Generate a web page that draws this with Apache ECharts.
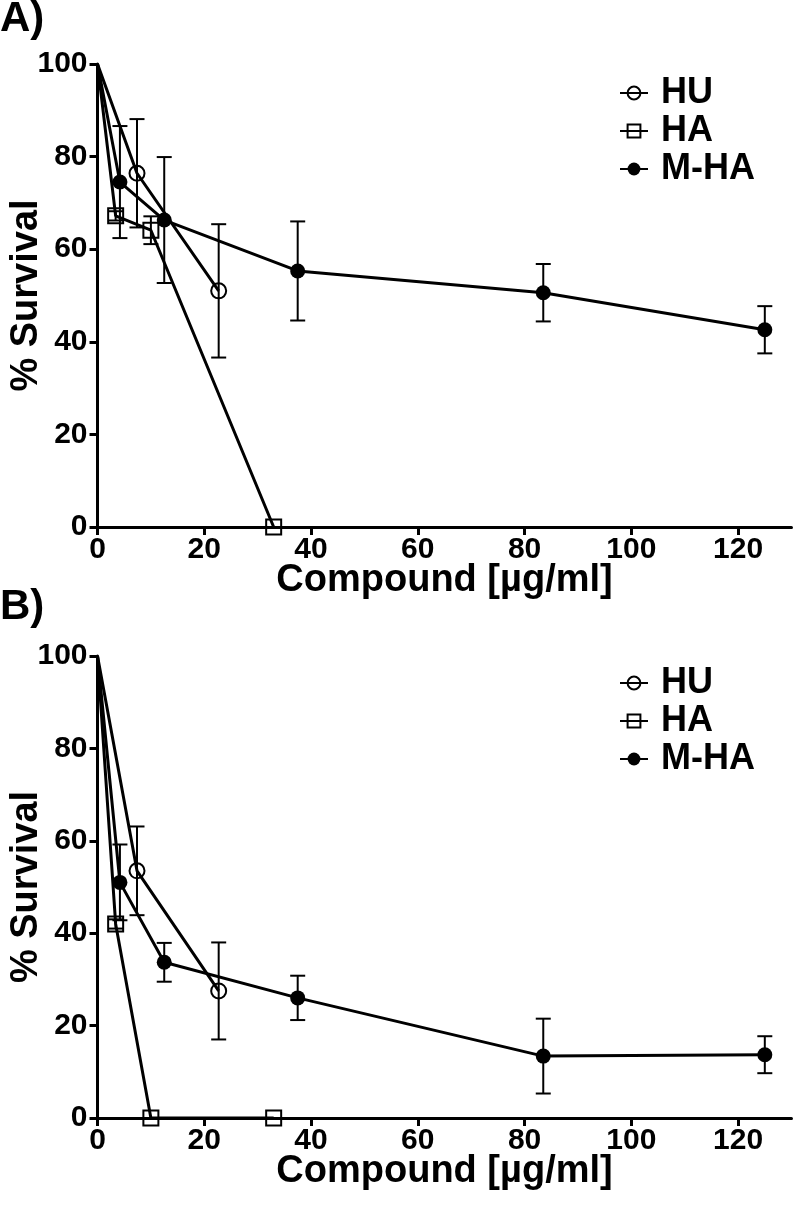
<!DOCTYPE html>
<html>
<head>
<meta charset="utf-8">
<script src="https://cdn.jsdelivr.net/npm/echarts@6/dist/echarts.min.js"></script>
<style>html,body{margin:0;padding:0;background:#fff;}#c{width:793px;height:1216px;}</style>
</head>
<body>
<div id="c"></div>
<script>
// ---- data ----
const seriesNames = ['HU', 'HA', 'M-HA'];
const xTickValues = [0, 20, 40, 60, 80, 100, 120];
const yTickValues = [0, 20, 40, 60, 80, 100];

const huX = [0, 7.4, 22.7];
const haX = [0, 3.4, 10, 33];
const mhaX = [0, 4.2, 12.5, 37.5, 83.5, 125];

// Panel A
const huA = [100, 76.4, 51.0];
const huAErr = [0, 11.7, 14.4];
const haA = [100, 67.2, 64.1, 0];
const haAErr = [0, 1.0, 3.0, 0];
const mhaA = [100, 74.5, 66.3, 55.3, 50.6, 42.6];
const mhaAErr = [0, 12.1, 13.6, 10.7, 6.2, 5.1];

// Panel B
const huB = [100, 53.5, 27.5];
const huBErr = [0, 9.6, 10.5];
const haB = [100, 42.0, 0, 0];
const haBErr = [0, 1.0, 0, 0];
const mhaB = [100, 51.0, 33.7, 26.0, 13.4, 13.7];
const mhaBErr = [0, 8.2, 4.2, 4.8, 8.1, 4.0];

// ---- build ----
const FONT = 'Liberation Sans, Arial, sans-serif';
const chart = echarts.init(document.getElementById('c'), null, {renderer: 'canvas'});

function pts(xs, ys) {
  return xs.map((x, i) => i === 0 ? {value: [x, ys[i]], symbolSize: 0} : [x, ys[i]]);
}
function errPts(xs, ys, es) {
  return xs.map((x, i) => [x, ys[i], es[i]]);
}
const styles = {
  'HU': {symbol: 'circle', symbolSize: 15, itemStyle: {color: 'rgba(255,255,255,0)', borderColor: '#000', borderWidth: 2}},
  'HA': {symbol: 'rect', symbolSize: 15, itemStyle: {color: 'rgba(255,255,255,0)', borderColor: '#000', borderWidth: 2}},
  'M-HA': {symbol: 'circle', symbolSize: 15, itemStyle: {color: '#000', borderColor: '#000', borderWidth: 0}}
};
function lineSeries(name, xs, ys, idx) {
  const s = styles[name];
  return {
    type: 'line', name: name, xAxisIndex: idx, yAxisIndex: idx,
    data: pts(xs, ys), symbol: s.symbol, symbolSize: s.symbolSize,
    showAllSymbol: true, clip: false, z: 5,
    itemStyle: s.itemStyle,
    lineStyle: {color: '#000', width: 3},
    emphasis: {disabled: true}, animation: false
  };
}
function errSeries(data, idx) {
  return {
    type: 'custom', xAxisIndex: idx, yAxisIndex: idx, z: 3, clip: false,
    data: data, encode: {x: 0, y: 1}, animation: false, silent: true,
    renderItem: function (params, api) {
      const x = api.value(0), y = api.value(1), e = api.value(2);
      if (!e) return null;
      const t = api.coord([x, y + e]), b = api.coord([x, y - e]);
      const hw = 7.5;
      const st = {stroke: '#000', lineWidth: 2};
      return {type: 'group', children: [
        {type: 'line', shape: {x1: t[0], y1: t[1], x2: b[0], y2: b[1]}, style: st},
        {type: 'line', shape: {x1: t[0] - hw, y1: t[1], x2: t[0] + hw, y2: t[1]}, style: st},
        {type: 'line', shape: {x1: b[0] - hw, y1: b[1], x2: b[0] + hw, y2: b[1]}, style: st}
      ]};
    }
  };
}
function xAxis(idx) {
  return {
    type: 'value', gridIndex: idx, min: 0, max: 130, interval: 20,
    name: 'Compound [µg/ml]', nameLocation: 'middle', nameGap: 35, nameMoveOverlap: false,
    nameTextStyle: {fontFamily: FONT, fontWeight: 'bold', fontSize: 38, color: '#000'},
    axisLine: {show: true, onZero: false, lineStyle: {color: '#000', width: 3}},
    axisTick: {show: true, length: 8, lineStyle: {color: '#000', width: 3}, customValues: xTickValues},
    axisLabel: {fontFamily: FONT, fontWeight: 'bold', fontSize: 30, color: '#000', margin: 8,
      customValues: xTickValues, formatter: v => (v > 120 ? '' : String(v))},
    splitLine: {show: false}
  };
}
function yAxis(idx) {
  return {
    type: 'value', gridIndex: idx, min: 0, max: 100, interval: 20,
    name: '% Survival', nameLocation: 'middle', nameGap: 52, nameMoveOverlap: false,
    nameTextStyle: {fontFamily: FONT, fontWeight: 'bold', fontSize: 38, color: '#000'},
    axisLine: {show: true, onZero: false, lineStyle: {color: '#000', width: 3}},
    axisTick: {show: true, length: 8, lineStyle: {color: '#000', width: 3}},
    axisLabel: {fontFamily: FONT, fontWeight: 'bold', fontSize: 30, color: '#000', margin: 10},
    splitLine: {show: false}
  };
}
function legend(top) {
  return {
    orient: 'vertical', left: 614, top: top, itemWidth: 28, itemHeight: 16, itemGap: 2,
    data: seriesNames, selectedMode: false,
    textStyle: {fontFamily: FONT, fontWeight: 'bold', fontSize: 36, color: '#000', padding: [0, 0, 0, 8]}
  };
}

const option = {
  backgroundColor: '#fff',
  animation: false,
  title: [
    {text: 'A)', left: 0, top: -2, padding: 0, textStyle: {fontFamily: FONT, fontWeight: 'bold', fontSize: 42, color: '#000'}},
    {text: 'B)', left: 0, top: 586, padding: 0, textStyle: {fontFamily: FONT, fontWeight: 'bold', fontSize: 42, color: '#000'}}
  ],
  legend: [legend(70), legend(660)],
  grid: [
    {left: 97.5, top: 64, width: 694, height: 463, outerBoundsMode: 'none', containLabel: false},
    {left: 97.5, top: 656, width: 694, height: 462, outerBoundsMode: 'none', containLabel: false}
  ],
  xAxis: [xAxis(0), xAxis(1)],
  yAxis: [yAxis(0), yAxis(1)],
  series: [
    errSeries(errPts(huX, huA, huAErr).concat(errPts(haX, haA, haAErr), errPts(mhaX, mhaA, mhaAErr)), 0),
    lineSeries('HU', huX, huA, 0),
    lineSeries('HA', haX, haA, 0),
    lineSeries('M-HA', mhaX, mhaA, 0),
    errSeries(errPts(huX, huB, huBErr).concat(errPts(haX, haB, haBErr), errPts(mhaX, mhaB, mhaBErr)), 1),
    lineSeries('HU', huX, huB, 1),
    lineSeries('HA', haX, haB, 1),
    lineSeries('M-HA', mhaX, mhaB, 1)
  ]
};
chart.setOption(option);
</script>
</body>
</html>
